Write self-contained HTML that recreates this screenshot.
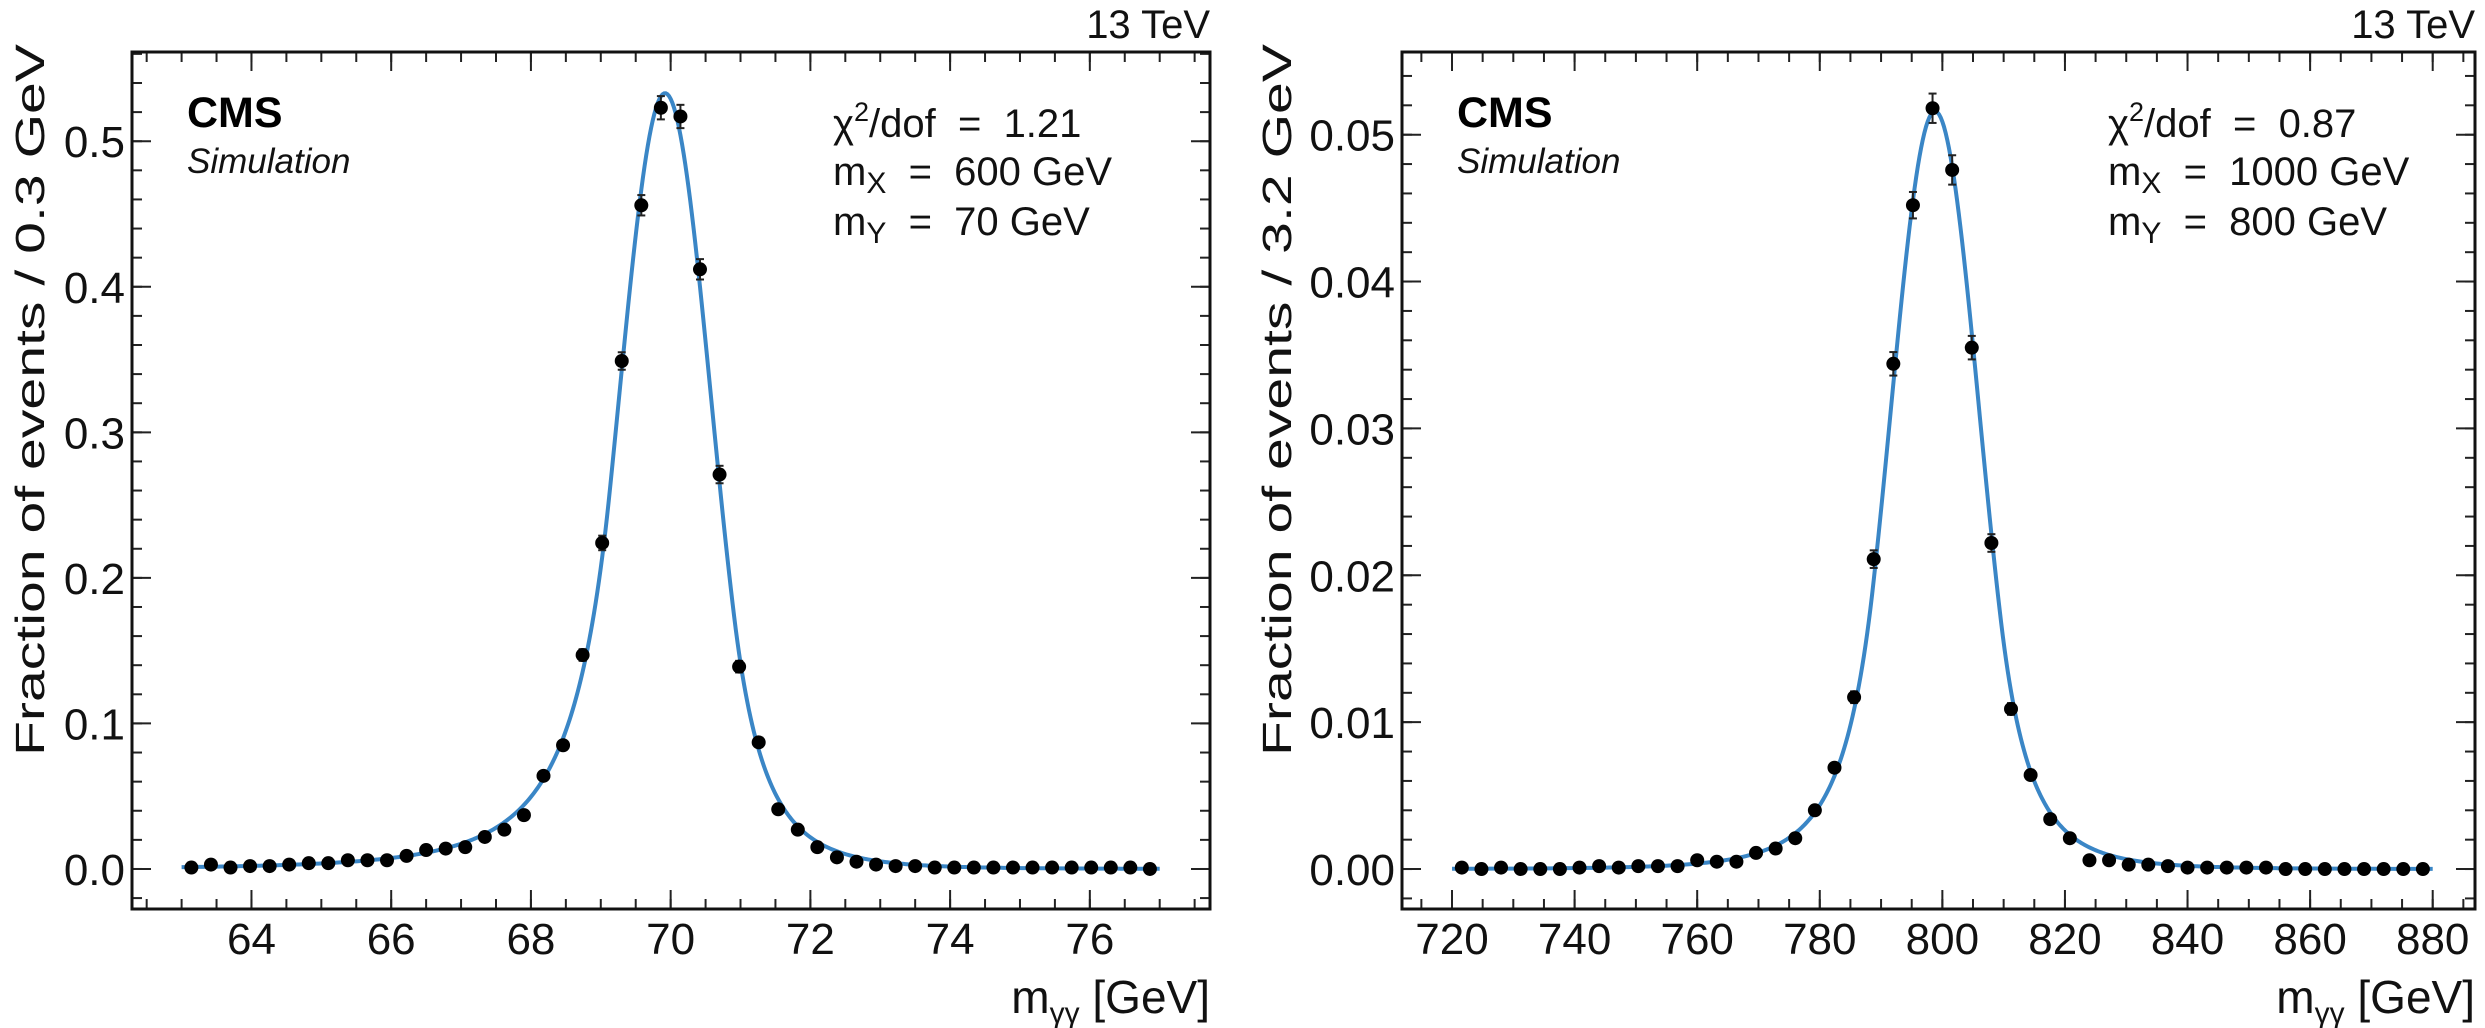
<!DOCTYPE html>
<html><head><meta charset="utf-8"><style>
html,body{margin:0;padding:0;background:#fff;}
svg{display:block;font-family:"Liberation Sans",Arial,sans-serif;}
</style></head><body>
<svg id="fig" width="2485" height="1028" viewBox="0 0 2485 1028" xmlns="http://www.w3.org/2000/svg"></svg>
<script>
// ---------- data: left panel ----------
const leftBinStart = 63.0;
const leftBinWidth = 0.28;
const leftValues = [0.001,0.003,0.001,0.002,0.002,0.003,0.004,0.004,0.006,0.006,
  0.006,0.009,0.013,0.014,0.015,0.022,0.027,0.037,0.064,0.085,
  0.147,0.224,0.349,0.456,0.523,0.517,0.412,0.271,0.139,0.087,
  0.041,0.027,0.015,0.008,0.005,0.003,0.002,0.002,0.001,0.001,
  0.001,0.001,0.001,0.001,0.001,0.001,0.001,0.001,0.001,0.000];
const leftErrors = [0.001,0.001,0.001,0.001,0.001,0.001,0.001,0.001,0.001,0.001,
  0.001,0.001,0.001,0.001,0.001,0.002,0.002,0.002,0.003,0.003,
  0.004,0.005,0.006,0.007,0.008,0.008,0.007,0.006,0.004,0.003,
  0.002,0.002,0.001,0.001,0.001,0.001,0.001,0.001,0.001,0.001,
  0.001,0.001,0.001,0.001,0.001,0.001,0.001,0.001,0.001,0.001];
const leftFit = [69.92, 0.66, 0.533, 1.2, 4, 1.5, 6];   // mean, sigma, peak, alphaL, nL, alphaR, nR
const leftXTicks = [64,66,68,70,72,74,76];
const leftYTicks = [0.0,0.1,0.2,0.3,0.4,0.5];
const leftYLabels = ["0.0","0.1","0.2","0.3","0.4","0.5"];
const leftInfo = ["1.21","600","70"];

// ---------- data: right panel ----------
const rightBinStart = 720.0;
const rightBinWidth = 3.2;
const rightValues = [0.0001,0,0.0001,0,0,0,0.0001,0.0002,0.0001,0.0002,
  0.0002,0.0002,0.0006,0.0005,0.0005,0.0011,0.0014,0.0021,0.0040,0.0069,
  0.0117,0.0211,0.0344,0.0452,0.0518,0.0476,0.0355,0.0222,0.0109,0.0064,
  0.0034,0.0021,0.0006,0.0006,0.0003,0.0003,0.0002,0.0001,0.0001,0.0001,
  0.0001,0.0001,0,0,0,0,0,0,0,0];
const rightErrors = [0.0001,0.0001,0.0001,0.0001,0.0001,0.0001,0.0001,0.0001,0.0001,0.0001,
  0.0001,0.0001,0.0001,0.0001,0.0001,0.0001,0.0002,0.0002,0.0002,0.0003,
  0.0004,0.0006,0.0008,0.0009,0.0010,0.0010,0.0008,0.0006,0.0004,0.0003,
  0.0002,0.0002,0.0001,0.0001,0.0001,0.0001,0.0001,0.0001,0.0001,0.0001,
  0.0001,0.0001,0.0001,0.0001,0.0001,0.0001,0.0001,0.0001,0.0001,0.0001];
const rightFit = [798.8, 7.2, 0.0516, 1.4, 6, 1.5, 6];
const rightXTicks = [720,740,760,780,800,820,840,860,880];
const rightYTicks = [0.00,0.01,0.02,0.03,0.04,0.05];
const rightYLabels = ["0.00","0.01","0.02","0.03","0.04","0.05"];
const rightInfo = ["0.87","1000","800"];

const NS = "http://www.w3.org/2000/svg";
const svg = document.getElementById('fig');
function mk(tag, attrs, parent){
  const e = document.createElementNS(NS, tag);
  for (const k in attrs) e.setAttribute(k, attrs[k]);
  (parent||svg).appendChild(e);
  return e;
}
function cb(x, p){ // double-sided crystal ball
  const tt = (x - p[0]) / p[1];
  const t = Math.abs(tt);
  const a = tt < 0 ? p[3] : p[5], n = tt < 0 ? p[4] : p[6];
  if (t < a) return p[2] * Math.exp(-0.5 * t * t);
  const A = Math.pow(n / a, n) * Math.exp(-0.5 * a * a);
  return p[2] * A * Math.pow(n / a - a + t, -n);
}

function panel(cfg){
  const g = mk('g', {});
  
  
  const L = cfg.box[0], T = cfg.box[1], R = cfg.box[2], B = cfg.box[3];
  const sx = v => L + (v - cfg.xr[0]) / (cfg.xr[1] - cfg.xr[0]) * (R - L);
  const sy = v => B - (v - cfg.yr[0]) / (cfg.yr[1] - cfg.yr[0]) * (B - T);

  const tg = mk('g', {stroke:'#222','stroke-width':2}, g);
  
  
  for (let v = Math.ceil(cfg.xr[0]/cfg.xminor)*cfg.xminor; v <= cfg.xr[1]; v += cfg.xminor){
    const x = sx(v);
    mk('line',{x1:x,x2:x,y1:B,y2:B-10},tg); mk('line',{x1:x,x2:x,y1:T,y2:T+10},tg);
  }
  for (let v = Math.ceil(cfg.yr[0]/cfg.yminor)*cfg.yminor; v <= cfg.yr[1]; v += cfg.yminor){
    const y = sy(v);
    mk('line',{x1:L,x2:L+10,y1:y,y2:y},tg); mk('line',{x1:R,x2:R-10,y1:y,y2:y},tg);
  }
  cfg.xt.forEach(v=>{ const x=sx(v);
    mk('line',{x1:x,x2:x,y1:B,y2:B-19},tg); mk('line',{x1:x,x2:x,y1:T,y2:T+19},tg);
    const t = mk('text',{x:x,y:B+45,'text-anchor':'middle','font-size':44,fill:'#111'},g);
    
    
    t.textContent = v;
  });
  cfg.yt.forEach((v,i)=>{ const y=sy(v);
    mk('line',{x1:L,x2:L+19,y1:y,y2:y},tg); mk('line',{x1:R,x2:R-19,y1:y,y2:y},tg);
    const t = mk('text',{x:L-7,y:y+16,'text-anchor':'end','font-size':44,fill:'#111'},g);
    
    
    t.textContent = cfg.yl[i];
  });
  const frame = mk('rect',{x:L,y:T,width:R-L,height:B-T,fill:'none',stroke:'#111','stroke-width':3},g);
  
  

  let d = '';
  const x0 = cfg.bs, x1 = cfg.bs + cfg.bw * cfg.vals.length;
  for (let i = 0; i <= 600; i++){
    const xv = x0 + (x1 - x0) * i / 600;
    d += (i ? 'L' : 'M') + sx(xv).toFixed(2) + ',' + sy(cb(xv, cfg.fit)).toFixed(2);
  }
  const curve = mk('path',{d:d,fill:'none',stroke:'#3a86c6','stroke-width':4},g);
  
  

  const pg = mk('g',{},g);
  
  
  cfg.vals.forEach((v,i)=>{
    const xc = sx(cfg.bs + cfg.bw*(i+0.5));
    const e = cfg.errs[i];
    mk('line',{x1:xc,x2:xc,y1:sy(v+e),y2:sy(v-e),stroke:'#222','stroke-width':2},pg);
    mk('line',{x1:xc-4,x2:xc+4,y1:sy(v+e),y2:sy(v+e),stroke:'#222','stroke-width':2},pg);
    mk('line',{x1:xc-4,x2:xc+4,y1:sy(v-e),y2:sy(v-e),stroke:'#222','stroke-width':2},pg);
    const c = mk('circle',{cx:xc,cy:sy(v),r:7,fill:'#000'},pg);
    
    
  });

  const lum = mk('text',{x:R,y:T-14,'text-anchor':'end','font-size':40,fill:'#111'},g);
  
  
  lum.textContent = '13 TeV';
  const cms = mk('text',{x:L+55,y:127,'font-size':43,'font-weight':'bold',fill:'#000'},g);
  
  
  cms.textContent = 'CMS';
  const sim = mk('text',{x:L+55,y:173,'font-size':35,'font-style':'italic',fill:'#111'},g);
  
  
  sim.textContent = 'Simulation';
  const ix = cfg.infoX;
  const t1 = mk('text',{x:ix,y:137,'font-size':40,fill:'#111'},g);
  
  
  t1.style.whiteSpace = 'pre';
  t1.innerHTML = 'χ<tspan dy="-16" font-size="27">2</tspan><tspan dy="16">/dof  =  ' + cfg.info[0] + '</tspan>';
  const t2 = mk('text',{x:ix,y:185,'font-size':40,fill:'#111'},g);
  
  
  t2.style.whiteSpace = 'pre';
  t2.innerHTML = 'm<tspan dy="8" font-size="30">X</tspan><tspan dy="-8">  =  ' + cfg.info[1] + ' GeV</tspan>';
  const t3 = mk('text',{x:ix,y:235,'font-size':40,fill:'#111'},g);
  
  
  t3.style.whiteSpace = 'pre';
  t3.innerHTML = 'm<tspan dy="8" font-size="30">Y</tspan><tspan dy="-8">  =  ' + cfg.info[2] + ' GeV</tspan>';

  const xt = mk('text',{x:R,y:1013,'text-anchor':'end','font-size':46,fill:'#111'},g);
  
  
  xt.innerHTML = 'm<tspan dy="10" font-size="30">γγ</tspan><tspan dy="-10"> [GeV]</tspan>';
  const yt = mk('text',{x:0,y:0,'text-anchor':'middle','font-size':41,fill:'#111',
    transform:'translate('+cfg.ytX+',400) rotate(-90)',textLength:712,lengthAdjust:'spacingAndGlyphs'},g);
  
  
  yt.textContent = cfg.ytitle;
}

panel({name:'left-panel', box:[132,52,1210,909], xr:[62.29,77.72], yr:[-0.0275,0.5613],
  xminor:0.5, yminor:0.02, xt:leftXTicks, yt:leftYTicks, yl:leftYLabels,
  bs:leftBinStart, bw:leftBinWidth, vals:leftValues, errs:leftErrors, fit:leftFit,
  info:leftInfo, infoX:833, ytX:44, ytitle:'Fraction of events / 0.3 GeV'});
panel({name:'right-panel', box:[1402,52,2475,909], xr:[711.84,886.9], yr:[-0.00272,0.05563],
  xminor:5, yminor:0.002, xt:rightXTicks, yt:rightYTicks, yl:rightYLabels,
  bs:rightBinStart, bw:rightBinWidth, vals:rightValues, errs:rightErrors, fit:rightFit,
  info:rightInfo, infoX:2108, ytX:1291, ytitle:'Fraction of events / 3.2 GeV'});
</script>
</body></html>
